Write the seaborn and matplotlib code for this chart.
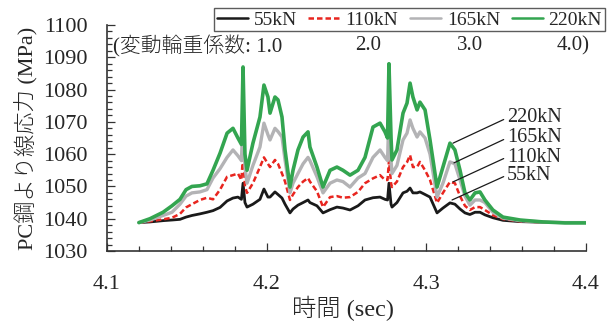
import numpy as np
import pandas as pd
import matplotlib
matplotlib.use("Agg")
import matplotlib.pyplot as plt
from matplotlib.ticker import MultipleLocator
import seaborn as sns

# Time axis (sec) shared by all four load cases
time = [4.1200, 4.1269, 4.1351, 4.1407, 4.1457, 4.1495, 4.1532, 4.1582, 4.1626, 4.1664,
        4.1708, 4.1752, 4.1789, 4.1820, 4.1842, 4.1852, 4.1864, 4.1877, 4.1914, 4.1958,
        4.1983, 4.2008, 4.2021, 4.2052, 4.2071, 4.2096, 4.2115, 4.2146, 4.2165, 4.2196,
        4.2228, 4.2259, 4.2271, 4.2315, 4.2353, 4.2397, 4.2440, 4.2478, 4.2522, 4.2572,
        4.2616, 4.2666, 4.2710, 4.2741, 4.2757, 4.2766, 4.2779, 4.2785, 4.2816, 4.2854,
        4.2879, 4.2898, 4.2916, 4.2942, 4.2960, 4.2992, 4.3023, 4.3067, 4.3104, 4.3148,
        4.3179, 4.3211, 4.3242, 4.3273, 4.3305, 4.3336, 4.3367, 4.3417, 4.3480, 4.3587,
        4.3731, 4.3868, 4.4000]

# PC strand stress (MPa) for each wheel load
stress_55 = [1038.8, 1039.0, 1039.4, 1039.6, 1039.8, 1040.5, 1041.0, 1041.5, 1042.0, 1042.5,
             1043.5, 1045.5, 1046.4, 1046.7, 1046.0, 1051.0, 1045.0, 1043.6, 1044.5, 1046.0,
             1049.2, 1046.7, 1046.7, 1048.3, 1047.5, 1046.4, 1044.5, 1041.8, 1043.0, 1044.2,
             1045.0, 1045.8, 1045.0, 1044.0, 1041.8, 1042.8, 1043.6, 1043.3, 1042.7, 1044.0,
             1045.8, 1046.5, 1046.7, 1046.0, 1045.8, 1051.0, 1044.5, 1043.6, 1045.0, 1048.0,
             1048.5, 1049.5, 1048.0, 1048.0, 1048.3, 1047.5, 1046.7, 1041.8, 1043.3, 1044.9,
             1044.5, 1043.0, 1041.8, 1041.3, 1042.0, 1042.0, 1041.2, 1040.3, 1039.5, 1039.1,
             1038.9, 1038.8, 1038.8]
stress_110 = [1038.8, 1039.2, 1039.8, 1040.3, 1041.5, 1043.5, 1044.5, 1045.8, 1046.5, 1046.0,
              1049.0, 1053.0, 1053.5, 1054.0, 1052.0, 1060.0, 1050.0, 1048.0, 1051.0, 1056.0,
              1059.0, 1057.0, 1056.0, 1058.2, 1057.0, 1054.0, 1051.5, 1045.8, 1047.5, 1049.8,
              1051.5, 1052.6, 1051.5, 1048.5, 1043.6, 1046.7, 1047.0, 1046.5, 1046.7, 1048.3,
              1051.0, 1052.5, 1053.5, 1052.0, 1052.0, 1058.0, 1051.0, 1049.8, 1051.5, 1056.0,
              1057.5, 1059.7, 1056.0, 1056.0, 1057.6, 1055.0, 1052.0, 1044.9, 1048.0, 1051.4,
              1051.0, 1047.0, 1044.0, 1042.7, 1043.6, 1043.6, 1042.7, 1041.1, 1039.9, 1039.2,
              1038.9, 1038.8, 1038.8]
stress_165 = [1038.8, 1039.6, 1041.0, 1042.0, 1044.5, 1047.0, 1048.0, 1048.3, 1049.0, 1052.6,
              1055.5, 1059.0, 1061.3, 1059.5, 1058.0, 1072.0, 1056.0, 1051.0, 1056.5, 1062.2,
              1069.6, 1066.0, 1064.4, 1068.0, 1067.0, 1065.3, 1058.2, 1048.0, 1051.0, 1054.0,
              1057.0, 1059.0, 1058.0, 1053.0, 1048.0, 1051.0, 1052.0, 1051.5, 1049.8, 1052.6,
              1054.0, 1059.0, 1061.3, 1059.0, 1058.0, 1073.0, 1058.0, 1054.0, 1056.5, 1064.4,
              1066.5, 1070.6, 1068.0, 1065.3, 1066.9, 1065.0, 1060.0, 1046.7, 1051.0, 1057.6,
              1057.0, 1052.0, 1047.0, 1044.2, 1045.8, 1045.8, 1045.0, 1042.0, 1040.2, 1039.4,
              1039.0, 1038.8, 1038.8]
stress_220 = [1038.8, 1040.0, 1042.0, 1044.0, 1046.0, 1049.0, 1050.0, 1050.2, 1050.8, 1055.0,
              1060.3, 1066.5, 1068.0, 1065.0, 1063.0, 1087.0, 1060.0, 1055.0, 1063.4, 1071.5,
              1081.4, 1077.7, 1072.7, 1077.7, 1076.8, 1071.5, 1061.3, 1049.8, 1055.0, 1061.3,
              1065.3, 1066.9, 1062.2, 1056.0, 1049.8, 1055.0, 1056.0, 1055.0, 1053.5, 1055.0,
              1059.0, 1068.4, 1069.6, 1066.9, 1065.0, 1088.0, 1065.0, 1058.2, 1061.3, 1072.7,
              1075.8, 1082.0, 1077.7, 1073.7, 1076.1, 1073.7, 1064.4, 1049.8, 1056.0, 1063.4,
              1061.3, 1055.0, 1048.0, 1045.8, 1048.0, 1048.3, 1045.8, 1042.7, 1040.5, 1039.6,
              1039.0, 1038.7, 1038.7]

loads = ["55kN", "110kN", "165kN", "220kN"]
factors = ["1.0", "2.0", "3.0", "4.0"]
colors = ["#1a1a1a", "#e8251f", "#b3b3b5", "#33a550"]
widths = [2.0, 1.8, 2.4, 2.6]
styles = ["-", (0, (2.2, 1.2)), "-", "-"]

# Callout anchors on each curve (time, stress) and text positions
callout_xy = [(4.3161, 1045.8), (4.3167, 1051.4), (4.3173, 1057.3), (4.3167, 1063.4)]
callout_text = [(4.3505, 1053.5), (4.3505, 1059.1), (4.3505, 1065.0), (4.3505, 1071.2)]

sns.set_style("ticks")
plt.rcParams["font.family"] = ["Liberation Serif", "Noto Sans CJK JP"]
plt.rcParams["axes.unicode_minus"] = False

W, H = 609, 322
fig = plt.figure(figsize=(W / 100, H / 100), dpi=100)
ax = fig.add_axes([107 / W, 1 - 251 / H, (586 - 107) / W, (251 - 25) / H])

series = [stress_55, stress_110, stress_165, stress_220]
for name, vals, c, lw, ls in zip(loads, series, colors, widths, styles):
    sns.lineplot(x=time, y=vals, ax=ax, color=c, linewidth=lw, linestyle=ls,
                 label=name, sort=False, estimator=None)

ax.set_xlim(4.1, 4.4)
ax.set_ylim(1030, 1100)
ax.xaxis.set_major_locator(MultipleLocator(0.1))
ax.xaxis.set_minor_locator(MultipleLocator(0.02))
ax.yaxis.set_major_locator(MultipleLocator(10))
ax.yaxis.set_minor_locator(MultipleLocator(2))
ax.set_xticklabels([f"{v:.1f}" for v in ax.get_xticks()])
ax.tick_params(axis="both", which="both", direction="in", color="#333333", width=0.9)
ax.tick_params(axis="both", which="major", length=6, labelsize=16)
ax.tick_params(axis="both", which="minor", length=3.5)
ax.tick_params(axis="y", which="major", pad=14)
ax.tick_params(axis="x", which="major", pad=17)
for side in ["top", "right"]:
    ax.spines[side].set_visible(False)
for side in ["left", "bottom"]:
    ax.spines[side].set_color("#333333")
    ax.spines[side].set_linewidth(1.2)

ax.set_xlabel("時間 (sec)", fontsize=17.5, fontweight="light")
ax.set_ylabel("PC鋼より線応力 (MPa)", fontsize=16, fontweight="light")
ax.xaxis.set_label_coords((343 - 107) / 479, (251 - 296) / 226)
ax.yaxis.set_label_coords((38 - 107) / 479, 0.5)

leg = ax.legend(loc="upper right", bbox_to_anchor=(605 / W, 1 - 8 / H),
                bbox_transform=fig.transFigure, ncol=4, frameon=True,
                fancybox=False, edgecolor="#333333", fontsize=14,
                handlelength=1.6, handletextpad=0.3, columnspacing=0.6,
                borderpad=0.15, borderaxespad=0)
leg.get_frame().set_linewidth(1.0)
for h in leg.get_lines():
    h.set_linewidth(1.8)

# Load factor line under the legend
fy = 1 - 46 / H
fig.text(113 / W, fy, "(変動輪重係数: " + factors[0], fontsize=15, fontweight="light",
         ha="left", va="center")
fig.text(368 / W, fy, factors[1], fontsize=15, ha="center", va="center")
fig.text(470 / W, fy, factors[2], fontsize=15, ha="center", va="center")
fig.text(590 / W, fy, factors[3] + ")", fontsize=15, ha="right", va="center")

for name, xy, xt in zip(loads, callout_xy, callout_text):
    ax.annotate(name, xy=xy, xytext=xt, fontsize=14.5, ha="left", va="center",
                annotation_clip=False,
                arrowprops=dict(arrowstyle="-", color="#1a1a1a", lw=0.9,
                                shrinkA=0, shrinkB=0, relpos=(0, 0.5)))

fig.savefig("out.png", dpi=100)
